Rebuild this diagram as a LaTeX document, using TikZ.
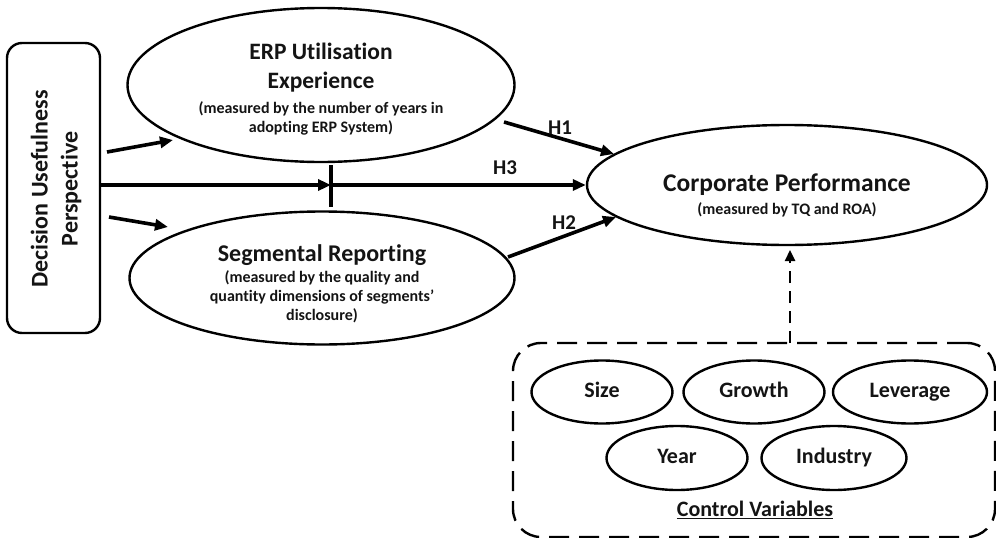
\documentclass[tikz,border=0pt]{standalone}
\usepackage{fontspec}
\setmainfont{Carlito}[Ligatures={NoCommon,NoContextual}]
\usetikzlibrary{arrows.meta,shapes.geometric}
\begin{document}
\begin{tikzpicture}[x=1pt,y=-1pt,
  every node/.style={font=\bfseries, text=black!92},
  ell/.style={draw, ellipse, line width=2.4pt, inner sep=0pt, align=center},
  small/.style={ell, minimum width=141pt, minimum height=63pt, text height=15pt, text depth=5pt, font=\bfseries\fontsize{22}{24}\selectfont},
  big/.style={align=center, inner sep=0pt, font=\bfseries\fontsize{23.5}{29}\selectfont},
  sub/.style={align=center, inner sep=0pt, font=\bfseries\fontsize{16}{19}\selectfont},
  arr/.style={line width=3.6pt, -{Triangle[length=13pt,width=11pt]}},
  lbl/.style={font=\bfseries\fontsize{21}{22}\selectfont}]
\useasboundingbox (0,0) rectangle (996,538);
% left box
\node[draw, rounded corners=15pt, line width=2.4pt, minimum width=93pt, minimum height=290pt, inner sep=0pt] (dup) at (53.5,188) {};
\node[rotate=90, align=center, font=\bfseries\fontsize{24}{30}\selectfont] (duptxt) at (56,189) {Decision Usefulness\\Perspective};
% ellipses
\node[ell, minimum width=387pt, minimum height=154pt] (erp) at (321,85) {};
\node[big] (erpt) at (321,68) {ERP Utilisation\\Experience};
\node[sub] (erps) at (321,118) {(measured by the number of years in\\adopting ERP System)};
\node[ell, minimum width=385pt, minimum height=133pt] (seg) at (322,278) {};
\node[big, font=\bfseries\fontsize{24}{29}\selectfont] (segt) at (322,255) {Segmental Reporting};
\node[sub] (segs) at (322,297) {(measured by the quality and\\quantity dimensions of segments'\\disclosure)};
\node[ell, minimum width=400pt, minimum height=120pt] (corp) at (787,185) {};
\node[big, font=\bfseries\fontsize{25.5}{28}\selectfont] (corpt) at (787,185) {Corporate Performance};
\node[sub] (corps) at (787,210) {(measured by TQ and ROA)};
% control variables
\node[draw, dashed, dash pattern=on 20pt off 10pt, rounded corners=28pt, line width=2.4pt, minimum width=482pt, minimum height=194pt, inner sep=0pt] (ctrl) at (754,440) {};
\node[small] (size) at (602,392) {Size};
\node[small] (growth) at (754,392) {Growth};
\node[small, minimum width=154pt] (lev) at (910,392) {Leverage};
\node[small, minimum height=64pt] (year) at (677,458) {Year};
\node[small, minimum width=145pt, minimum height=64pt] (ind) at (834,458) {Industry};
\node[font=\bfseries\fontsize{22}{24}\selectfont] (cvl) at (755,510) {\underline{Control Variables}};
% connectors
\coordinate (a1s) at (107,152);
\coordinate (a1e) at (173,140);
\coordinate (a2s) at (109,217);
\coordinate (a2e) at (168,227);
\draw[arr] (a1s) -- (a1e);
\draw[arr] (a2s) -- (a2e);
\coordinate (barT) at (331,165);
\coordinate (barB) at (331,207);
\coordinate (barM) at (331,185);
\coordinate (h3s) at (100,185);
\draw[line width=3.6pt] (barT) -- (barB);
\draw[arr] (h3s) -- (barM);
\draw[arr] (barM) -- (corp.west |- barM);
\node[lbl] (h3) at (505,168) {H3};
\coordinate (h1s) at (504,122);
\coordinate (h1e) at (614,154);
\draw[arr] (h1s) -- (h1e);
\node[lbl] (h1) at (560,128) {H1};
\coordinate (h2s) at (508,257);
\coordinate (h2e) at (616,217);
\draw[arr] (h2s) -- (h2e);
\node[lbl] (h2) at (564,223) {H2};
\coordinate (cs) at (790,343);
\coordinate (ce) at (790,250);
\draw[line width=2.4pt, dash pattern=on 12pt off 8pt, -{Triangle[length=11pt,width=10pt]}] (cs) -- (ce);
\end{tikzpicture}
\end{document}
